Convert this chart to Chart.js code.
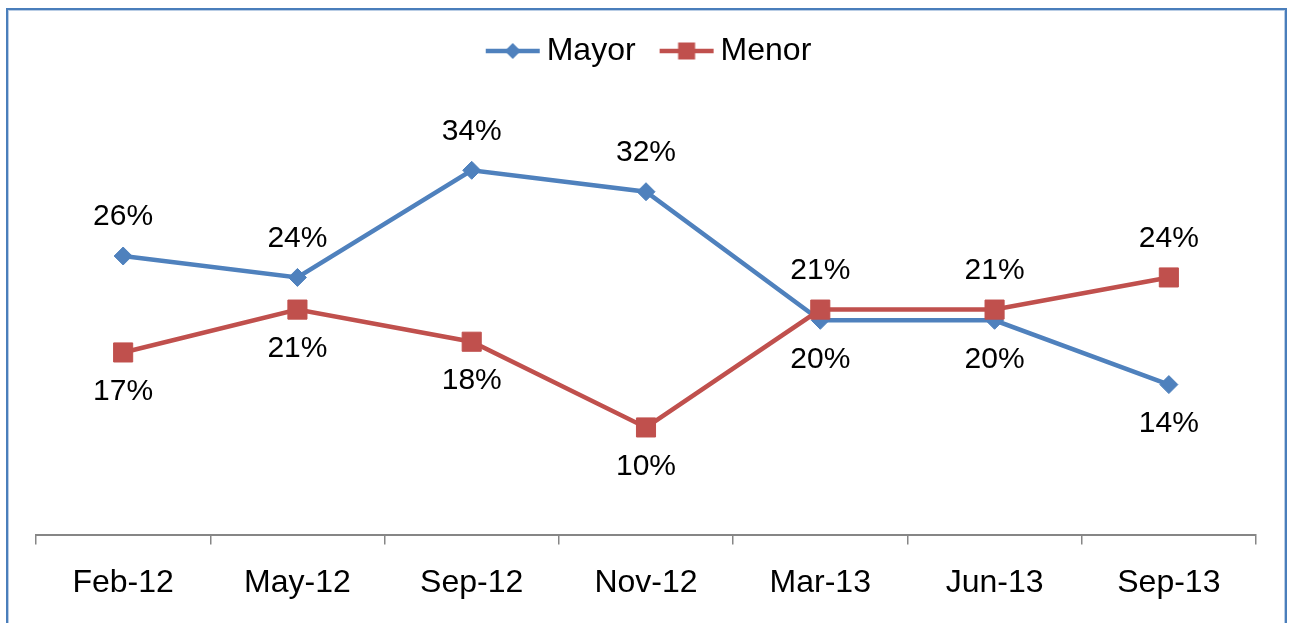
<!DOCTYPE html>
<html lang="es">

<head>
    <meta charset="UTF-8">
    <title>Mayor / Menor</title>
    <script src="https://cdn.jsdelivr.net/npm/chart.js@4.4.1/dist/chart.umd.min.js"></script>
    <style>
        body { margin: 0; background: #fff; }
        #wrap { position: relative; width: 1290px; height: 623px; overflow: hidden; }
        #frame {
            position: absolute; left: 6px; top: 8px; width: 1277px; height: 700px;
            border: 2px solid #4a7ebb; box-shadow: inset 0 0 0 1px #b9cde5;
        }
        #chartBox { position: absolute; left: 0; top: 0; width: 1290px; height: 623px; }
    </style>
</head>

<body>
    <div id="wrap">
        <div id="frame"></div>
        <div id="chartBox"><canvas id="grafico"></canvas></div>
    </div>

    <script>
        // datos
        const categorias = ['Feb-12', 'May-12', 'Sep-12', 'Nov-12', 'Mar-13', 'Jun-13', 'Sep-13'];
        const mayor = [26, 24, 34, 32, 20, 20, 14];
        const menor = [17, 21, 18, 10, 21, 21, 24];

        const azul = '#4f81bd';
        const rojo = '#c0504d';
        const fuente = '"Liberation Sans", Arial, sans-serif';

        // icono de leyenda: linea + marcador
        function iconoLeyenda(color, forma) {
            const c = document.createElement('canvas');
            c.width = 56; c.height = 22;
            const g = c.getContext('2d');
            g.strokeStyle = color;
            g.lineWidth = 4.5;
            g.beginPath(); g.moveTo(1, 11); g.lineTo(55, 11); g.stroke();
            g.fillStyle = color;
            g.beginPath();
            if (forma === 'rombo') {
                g.moveTo(28, 3); g.lineTo(36, 11); g.lineTo(28, 19); g.lineTo(20, 11);
            } else {
                g.rect(19.5, 2.5, 17, 17);
            }
            g.closePath(); g.fill();
            return c;
        }
        const iconos = [iconoLeyenda(azul, 'rombo'), iconoLeyenda(rojo, 'cuadro')];

        // etiquetas de datos: la serie mas alta arriba, la mas baja abajo
        const etiquetas = {
            id: 'etiquetas',
            afterDatasetsDraw(chart) {
                const { ctx } = chart;
                const sets = chart.data.datasets;
                ctx.save();
                ctx.font = '30px ' + fuente;
                ctx.fillStyle = '#000';
                ctx.textAlign = 'center';
                ctx.textBaseline = 'middle';
                sets.forEach((ds, i) => {
                    const otro = sets[1 - i].data;
                    chart.getDatasetMeta(i).data.forEach((pt, j) => {
                        const arriba = ds.data[j] >= otro[j];
                        ctx.fillText(ds.data[j] + '%', pt.x, pt.y + (arriba ? -39 : 39));
                    });
                });
                ctx.restore();
            }
        };

        // espacio extra debajo de la leyenda y leve corrimiento a la derecha
        const ajusteLeyenda = {
            id: 'ajusteLeyenda',
            beforeInit(chart) {
                const leyenda = chart.legend;
                const fitOriginal = leyenda.fit;
                leyenda.fit = function () {
                    fitOriginal.call(leyenda);
                    this.height += 29;
                };
                const drawOriginal = leyenda.draw;
                leyenda.draw = function () {
                    chart.ctx.save();
                    chart.ctx.translate(7, 0);
                    drawOriginal.call(leyenda);
                    chart.ctx.restore();
                };
            }
        };

        const config = {
            type: 'line',
            data: {
                labels: categorias,
                datasets: [{
                    label: 'Mayor',
                    data: mayor,
                    borderColor: azul,
                    backgroundColor: azul,
                    borderWidth: 4.5,
                    pointStyle: 'rectRot',
                    pointRadius: 9,
                    pointBorderWidth: 1,
                    pointBackgroundColor: azul,
                    pointBorderColor: azul,
                    tension: 0,
                    order: 1
                }, {
                    label: 'Menor',
                    data: menor,
                    borderColor: rojo,
                    backgroundColor: rojo,
                    borderWidth: 4.5,
                    pointStyle: 'rect',
                    pointRadius: 13.5,
                    pointBorderWidth: 1,
                    pointBackgroundColor: rojo,
                    pointBorderColor: rojo,
                    tension: 0,
                    order: 0
                }]
            },
            options: {
                responsive: true,
                maintainAspectRatio: false,
                animation: false,
                layout: { padding: { left: 36, right: 34, top: 2, bottom: 2 } },
                plugins: {
                    tooltip: { enabled: false },
                    legend: {
                        position: 'top',
                        labels: {
                            usePointStyle: true,
                            pointStyleWidth: 36,
                            padding: 33,
                            color: '#000',
                            font: { size: 32, family: fuente },
                            generateLabels(chart) {
                                return chart.data.datasets.map((ds, i) => ({
                                    text: ds.label,
                                    pointStyle: iconos[i],
                                    fillStyle: ds.borderColor,
                                    strokeStyle: ds.borderColor,
                                    lineWidth: 0,
                                    hidden: false,
                                    fontColor: '#000',
                                    datasetIndex: i
                                }));
                            }
                        }
                    }
                },
                scales: {
                    x: {
                        offset: true,
                        grid: {
                            offset: true,
                            drawOnChartArea: false,
                            drawTicks: true,
                            tickLength: 10,
                            color: '#868686',
                            lineWidth: 1.5
                        },
                        border: { display: true, color: '#868686', width: 2 },
                        ticks: {
                            color: '#000',
                            padding: 19,
                            maxRotation: 0,
                            font: { size: 32, family: fuente }
                        }
                    },
                    y: {
                        display: false,
                        min: 0,
                        max: 40
                    }
                }
            },
            plugins: [etiquetas, ajusteLeyenda]
        };

        const grafico = new Chart(document.getElementById('grafico'), config);
    </script>

</body>

</html>
